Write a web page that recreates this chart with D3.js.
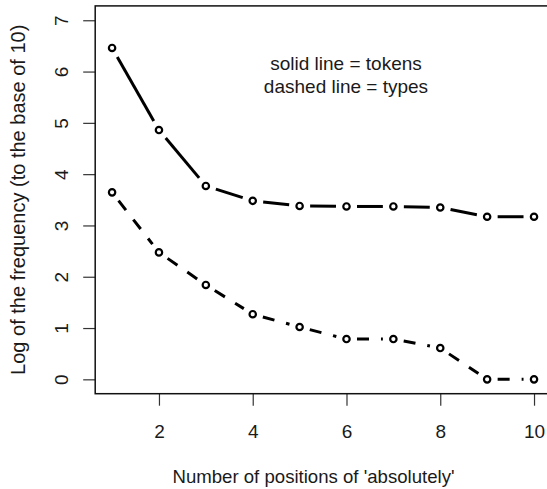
<!DOCTYPE html>
<html>
<head>
<meta charset="utf-8">
<script src="https://cdn.jsdelivr.net/npm/d3@7"></script>
<style>
  html, body { margin: 0; padding: 0; background: #fff; }
  svg { display: block; }
  text { font-family: "Liberation Sans", Arial, sans-serif; fill: #1a1a1a; }
</style>
</head>
<body>
<svg id="chart" width="547" height="489"></svg>
<script>
// Positions of 'absolutely' and log10 frequencies
const positions = [1, 2, 3, 4, 5, 6, 7, 8, 9, 10];
const tokens = [6.46, 4.86, 3.77, 3.48, 3.38, 3.37, 3.37, 3.35, 3.17, 3.17];
const types = [3.645, 2.475, 1.84, 1.27, 1.02, 0.785, 0.785, 0.61, 0, 0];
const xTicks = [2, 4, 6, 8, 10];
const yTicks = [0, 1, 2, 3, 4, 5, 6, 7];
const xTitle = "Number of positions of 'absolutely'";
const yTitle = "Log of the frequency (to the base of 10)";
const legendLines = ["solid line = tokens", "dashed line = types"];

const svg = d3.select("#chart");
const box = { left: 95.2, right: 550.9, top: 5.9, bottom: 393.7 };

// data range padded by 4% on each side
const xPad = (10 - 1) * 0.04, yPad = (7 - 0) * 0.04;
const x = d3.scaleLinear().domain([1 - xPad, 10 + xPad]).range([box.left, box.right]);
const y = d3.scaleLinear().domain([0 - yPad, 7 + yPad]).range([box.bottom, box.top]);

const fontSize = 19;

// x axis
const xAxis = svg.append("g")
  .attr("transform", `translate(0,${box.bottom})`)
  .call(d3.axisBottom(x).tickValues(xTicks).tickSize(12).tickPadding(0).tickFormat(d3.format("d")));
xAxis.select(".domain").remove();
xAxis.selectAll(".tick line").attr("stroke", "#333").attr("stroke-width", 1.2);
xAxis.selectAll(".tick text").remove();
xAxis.selectAll(".tick").append("text")
  .attr("y", 438.3 - box.bottom)
  .attr("text-anchor", "middle")
  .style("font-size", fontSize + "px")
  .text(d => d);

// y axis with vertical labels
const yAxis = svg.append("g")
  .attr("transform", `translate(${box.left},0)`)
  .call(d3.axisLeft(y).tickValues(yTicks).tickSize(12).tickFormat(d3.format("d")));
yAxis.select(".domain").remove();
yAxis.selectAll(".tick line").attr("stroke", "#333").attr("stroke-width", 1.2);
yAxis.selectAll(".tick text").remove();
yAxis.selectAll(".tick").append("text")
  .attr("transform", `translate(${68 - box.left},0) rotate(-90)`)
  .attr("text-anchor", "middle")
  .style("font-size", fontSize + "px")
  .text(d => d);

// plot frame
svg.append("rect")
  .attr("x", box.left).attr("y", box.top)
  .attr("width", box.right - box.left).attr("height", box.bottom - box.top)
  .attr("fill", "none").attr("stroke", "#111").attr("stroke-width", 1.5);

// axis titles
svg.append("text")
  .attr("x", 313.5)
  .attr("y", 482.5)
  .attr("text-anchor", "middle")
  .style("font-size", "18.6px")
  .text(xTitle);

svg.append("text")
  .attr("transform", `translate(25,${(box.top + box.bottom) / 2}) rotate(-90)`)
  .attr("text-anchor", "middle")
  .style("font-size", "20px")
  .text(yTitle);

// legend note
svg.append("g").selectAll("text").data(legendLines).join("text")
  .attr("x", 346)
  .attr("y", (d, i) => 70 + i * 22.5)
  .attr("text-anchor", "middle")
  .style("font-size", fontSize + "px")
  .text(d => d);

// points joined by segments that stop short of each point
const gap = 10.5;
function drawSeries(values, dash) {
  const pts = positions.map((p, i) => [x(p), y(values[i])]);
  const g = svg.append("g");
  for (let i = 0; i < pts.length - 1; i++) {
    const [x0, y0] = pts[i], [x1, y1] = pts[i + 1];
    const dx = x1 - x0, dy = y1 - y0, len = Math.hypot(dx, dy);
    if (len <= 2 * gap) continue;
    const ux = dx / len, uy = dy / len;
    g.append("line")
      .attr("x1", x0 + ux * gap).attr("y1", y0 + uy * gap)
      .attr("x2", x1 - ux * gap).attr("y2", y1 - uy * gap)
      .attr("stroke", "#000").attr("stroke-width", 3)
      .attr("stroke-linecap", "butt")
      .attr("stroke-dasharray", dash);
  }
  g.selectAll("circle").data(pts).join("circle")
    .attr("cx", d => d[0]).attr("cy", d => d[1])
    .attr("r", 3.2)
    .attr("fill", "none").attr("stroke", "#000").attr("stroke-width", 2.2);
}
drawSeries(tokens, null);
drawSeries(types, "12 12");
</script>
</body>
</html>
